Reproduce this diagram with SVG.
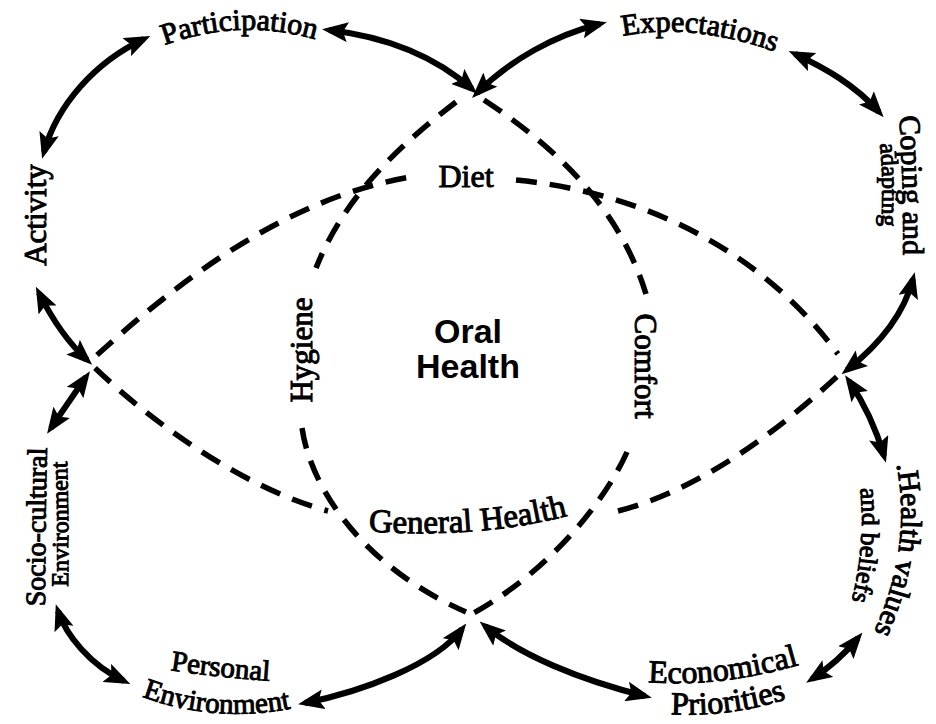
<svg xmlns="http://www.w3.org/2000/svg" xmlns:xlink="http://www.w3.org/1999/xlink" width="936" height="724" viewBox="0 0 936 724">
<style>
.lbl{font-family:"Liberation Serif","Times New Roman",serif;fill:#000;stroke:#000;stroke-width:1}
.core{font-family:"Liberation Sans",Arial,sans-serif;font-weight:bold;font-size:34px;fill:#000}
.dash{fill:none;stroke:#000;stroke-width:5.5;stroke-dasharray:21 13}
.arr{fill:none;stroke:#000;stroke-width:6;marker-start:url(#ah);marker-end:url(#ah)}
</style>
<defs>
<marker id="ah" viewBox="0 0 26 20" refX="19" refY="10" markerWidth="26" markerHeight="20" markerUnits="userSpaceOnUse" orient="auto-start-reverse">
<path d="M0,0 L26,10 L0,20 L5,10 z" fill="#000"/>
</marker>
<path id="pPart" d="M162,46 Q240,17 318,40"/>
<path id="pExp" d="M622,36 Q691,22 776,52"/>
<path id="pCop" d="M899,113 Q904,185 903,258"/>
<path id="pAda" d="M880,143 Q884,185 881,227"/>
<path id="pHv" d="M895,458 Q915,547 871,638"/>
<path id="pAb" d="M860,485 Q866,545 851,604"/>
<path id="pSoc" d="M45,607 Q45,527 47,447"/>
<path id="pEnvL" d="M68,588 Q69,524 67,460"/>
<path id="pPers" d="M168,670 Q215,677 272,681"/>
<path id="pEnvB" d="M140,696 Q215,724 293,708"/>
<path id="pEco" d="M645,682 Q720,688 802,664"/>
<path id="pPri" d="M667,714 Q730,718 790,698"/>
<path id="pGen" d="M362,531 Q480,540 574,514"/>
</defs>

<g id="connectors">
<path class="dash" d="M456,102 C400,145 345,195 316,268"/>
<path class="dash" d="M302,428 C312,495 370,570 466,612"/>
<path class="dash" d="M484,100 C560,150 620,210 646,294"/>
<path class="dash" d="M627,452 C608,495 555,568 472,614"/>
<path class="dash" d="M97,355 C180,280 290,195 417,176"/>
<path class="dash" d="M516,180 C620,190 750,235 838,354"/>
<path class="dash" d="M95,368 C160,430 250,490 328,511"/>
<path class="dash" d="M618,511 C700,490 780,430 842,372"/>
<path class="arr" d="M44,152 C57,105 95,62 144,39"/>
<path class="arr" d="M329,30 C380,36 430,52 472,89"/>
<path class="arr" d="M477,93 C510,60 555,35 600,24"/>
<path class="arr" d="M795,54 C825,68 855,85 879,112"/>
<path class="arr" d="M913,279 C905,310 885,340 847,370"/>
<path class="arr" d="M849,381 C862,400 875,425 884,456"/>
<path class="arr" d="M858,638 Q838,662 812,679"/>
<path class="arr" d="M485,626 C520,655 580,680 645,696"/>
<path class="arr" d="M462,629 C435,665 360,692 305,703"/>
<path class="arr" d="M58,611 C66,635 90,665 124,681"/>
<path class="arr" d="M86,377 Q70,400 51,428"/>
<path class="arr" d="M39,293 Q60,335 87,360"/>
</g>

<g id="node-participation"><text class="lbl" font-size="30"><textPath xlink:href="#pPart" href="#pPart" startOffset="50%" text-anchor="middle">Participation</textPath></text></g>
<g id="node-expectations"><text class="lbl" font-size="30"><textPath xlink:href="#pExp" href="#pExp" startOffset="50%" text-anchor="middle">Expectations</textPath></text></g>
<g id="node-activity"><text class="lbl" font-size="31" text-anchor="middle" transform="translate(46,215) rotate(-90)">Activity</text></g>
<g id="node-coping">
<text class="lbl" font-size="30"><textPath xlink:href="#pCop" href="#pCop" startOffset="50%" text-anchor="middle">Coping and</textPath></text>
<text class="lbl" font-size="24"><textPath xlink:href="#pAda" href="#pAda" startOffset="50%" text-anchor="middle">adapting</textPath></text>
</g>
<g id="node-health-values">
<text class="lbl" font-size="30"><textPath xlink:href="#pHv" href="#pHv" startOffset="50%" text-anchor="middle">.Health values</textPath></text>
<text class="lbl" font-size="26"><textPath xlink:href="#pAb" href="#pAb" startOffset="50%" text-anchor="middle">and beliefs</textPath></text>
</g>
<g id="node-economical">
<text class="lbl" font-size="32"><textPath xlink:href="#pEco" href="#pEco" startOffset="50%" text-anchor="middle">Economical</textPath></text>
<text class="lbl" font-size="32"><textPath xlink:href="#pPri" href="#pPri" startOffset="50%" text-anchor="middle">Priorities</textPath></text>
</g>
<g id="node-personal">
<text class="lbl" font-size="29"><textPath xlink:href="#pPers" href="#pPers" startOffset="50%" text-anchor="middle">Personal</textPath></text>
<text class="lbl" font-size="29"><textPath xlink:href="#pEnvB" href="#pEnvB" startOffset="50%" text-anchor="middle">Environment</textPath></text>
</g>
<g id="node-sociocultural">
<text class="lbl" font-size="28"><textPath xlink:href="#pSoc" href="#pSoc" startOffset="50%" text-anchor="middle">Socio-cultural</textPath></text>
<text class="lbl" font-size="24"><textPath xlink:href="#pEnvL" href="#pEnvL" startOffset="50%" text-anchor="middle">Environment</textPath></text>
</g>
<g id="node-diet"><text class="lbl" font-size="32" x="466" y="187" text-anchor="middle">Diet</text></g>
<g id="node-hygiene"><text class="lbl" font-size="31" text-anchor="middle" transform="translate(312,350) rotate(-90)">Hygiene</text></g>
<g id="node-comfort"><text class="lbl" font-size="31" text-anchor="middle" transform="translate(635,366) rotate(90)">Comfort</text></g>
<g id="node-general-health"><text class="lbl" font-size="33"><textPath xlink:href="#pGen" href="#pGen" startOffset="50%" text-anchor="middle">General Health</textPath></text></g>
<g id="node-oral-health">
<text class="core" x="468" y="343" text-anchor="middle">Oral</text>
<text class="core" x="468" y="378" text-anchor="middle">Health</text>
</g>
</svg>
